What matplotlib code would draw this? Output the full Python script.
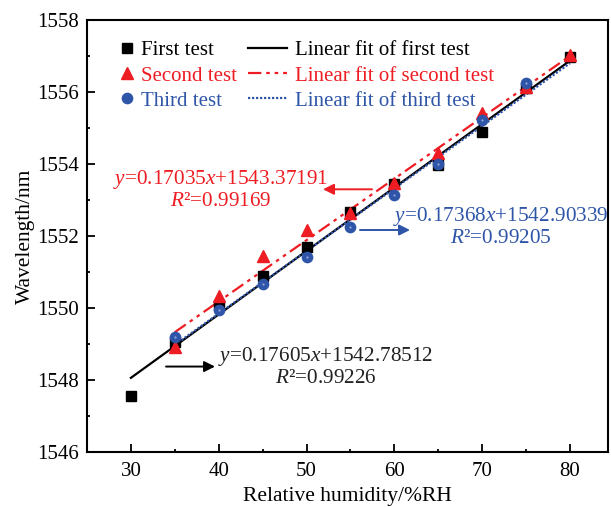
import numpy as np
import matplotlib
matplotlib.use("Agg")
import matplotlib.pyplot as plt
from matplotlib.lines import Line2D

plt.rcParams['font.family'] = ['Liberation Serif', 'DejaVu Serif']
plt.rcParams['mathtext.fontset'] = 'custom'
plt.rcParams['mathtext.rm'] = 'Liberation Serif'
plt.rcParams['mathtext.it'] = 'Liberation Serif:italic'

# Measured peak wavelength (nm) versus relative humidity (%RH)
rh_first = [30, 35, 40, 45, 50, 55, 60, 65, 70, 75, 80]
wl_first = [1547.55, 1549.05, 1550.10, 1550.88, 1551.70, 1552.68, 1553.45,
            1553.98, 1554.90, 1556.10, 1556.98]
rh_second = [35, 40, 45, 50, 55, 60, 65, 70, 75, 80]
wl_second = [1548.93, 1550.33, 1551.44, 1552.18, 1552.64, 1553.47, 1554.30,
             1555.43, 1556.15, 1557.03]
rh_third = [35, 40, 45, 50, 55, 60, 65, 70, 75]
wl_third = [1549.21, 1549.96, 1550.68, 1551.41, 1552.25, 1553.15, 1554.00,
            1555.22, 1556.26]

# Linear fit coefficients (slope, intercept, R^2)
fit_first = (0.17605, 1542.78512, 0.99226)
fit_second = (0.17035, 1543.37191, 0.99169)
fit_third = (0.17368, 1542.90339, 0.99205)

RED = '#ee1d23'
BLUE = '#2f55a8'

fig = plt.figure(figsize=(6.11, 5.07), dpi=100)
ax = fig.add_axes([0.1424, 0.1079, 0.8527, 0.8527])

# fit lines
xf1 = np.array([min(rh_first), max(rh_first)])
xf2 = np.array([min(rh_second), max(rh_second)])
xf3 = np.array([min(rh_third), 80])
ax.plot(xf1, fit_first[0] * xf1 + fit_first[1], color='black', lw=1.6, zorder=2)
ax.plot(xf2, fit_second[0] * xf2 + fit_second[1], color=RED, lw=1.6,
        dashes=(6, 2.2, 1.6, 2.2, 1.6, 2.2), zorder=2)
ax.plot(xf3, fit_third[0] * xf3 + fit_third[1], color=BLUE, lw=1.6,
        dashes=(1, 0.8), zorder=2)

# measured points
ax.plot(rh_first, wl_first, ls='none', marker='s', ms=7.2, color='black', zorder=3)
ax.plot(rh_second, wl_second, ls='none', marker='^', ms=9, color=RED, zorder=4)
ax.plot(rh_third, wl_third, ls='none', marker='o', ms=7.4, color=BLUE, zorder=5)
ax.plot(rh_third, wl_third, ls='none', marker='o', ms=1.6, color='#8fa6da',
        mec='none', zorder=6)

ax.set_xlim(25, 84.34)
ax.set_ylim(1546, 1558)
ax.set_xticks([30, 40, 50, 60, 70, 80])
ax.set_xticks([35, 45, 55, 65, 75], minor=True)
ax.set_yticks(np.arange(1546, 1559, 2))
ax.set_yticks(np.arange(1547, 1558, 2), minor=True)
ax.tick_params(which='both', direction='in', width=1.3, labelsize=15,
               top=False, right=False)
ax.tick_params(which='major', length=5.6)
ax.tick_params(which='minor', length=2.5)
ax.tick_params(axis='y', pad=5.5)
ax.tick_params(axis='x', pad=7)
for s in ax.spines.values():
    s.set_linewidth(1.5)

ax.set_xlabel('Relative humidity/%RH', fontsize=15.5, labelpad=4)
ax.set_ylabel('Wavelength/nm', fontsize=15.5, labelpad=2)

# legends: markers in one column, fit lines in the other
h_pts = [Line2D([], [], ls='none', marker='s', ms=7.2, color='black'),
         Line2D([], [], ls='none', marker='^', ms=9, color=RED),
         Line2D([], [], ls='none', marker='o', ms=7.4, color=BLUE)]
leg1 = ax.legend(h_pts, ['First test', 'Second test', 'Third test'],
                 loc='upper left', bbox_to_anchor=(0.064, 0.952), frameon=False,
                 fontsize=15, handlelength=0.6, handletextpad=0.4,
                 labelspacing=0.27, borderpad=0, borderaxespad=0,
                 labelcolor=['black', RED, BLUE])
ax.add_artist(leg1)
h_lines = [Line2D([], [], color='black', lw=1.6),
           Line2D([], [], color=RED, lw=1.6, dashes=(6, 2.2, 1.6, 2.2, 1.6, 2.2)),
           Line2D([], [], color=BLUE, lw=1.6, dashes=(1, 0.8))]
ax.legend(h_lines, ['Linear fit of first test', 'Linear fit of second test',
                    'Linear fit of third test'],
          loc='upper left', bbox_to_anchor=(0.309, 0.952), frameon=False,
          fontsize=15, handlelength=1.85, handletextpad=0.4,
          labelspacing=0.27, borderpad=0, borderaxespad=0,
          labelcolor=['black', RED, BLUE])


def eq_text(fit):
    return '$y$=%.5f$x$+%.5f\n$R$\u00b2=%.5f' % fit


arrow = dict(arrowstyle='-|>', lw=1.4, mutation_scale=16, shrinkA=0, shrinkB=0)

ax.text(40.26, 1553.30, eq_text(fit_second), color=RED, fontsize=15.3,
        ha='center', va='center', multialignment='center', linespacing=1.1)
ax.annotate('', xy=(51.88, 1553.30), xytext=(57.46, 1553.30),
            arrowprops=dict(arrow, color=RED))

ax.text(72.15, 1552.26, eq_text(fit_third), color=BLUE, fontsize=15.3,
        ha='center', va='center', multialignment='center', linespacing=1.1)
ax.annotate('', xy=(61.79, 1552.17), xytext=(56.09, 1552.17),
            arrowprops=dict(arrow, color=BLUE))

ax.text(52.22, 1548.38, eq_text(fit_first), color='#222222', fontsize=15.3,
        ha='center', va='center', multialignment='center', linespacing=1.1)
ax.annotate('', xy=(39.58, 1548.38), xytext=(34.0, 1548.38),
            arrowprops=dict(arrow, color='black'))

fig.savefig('out.png', dpi=100)
